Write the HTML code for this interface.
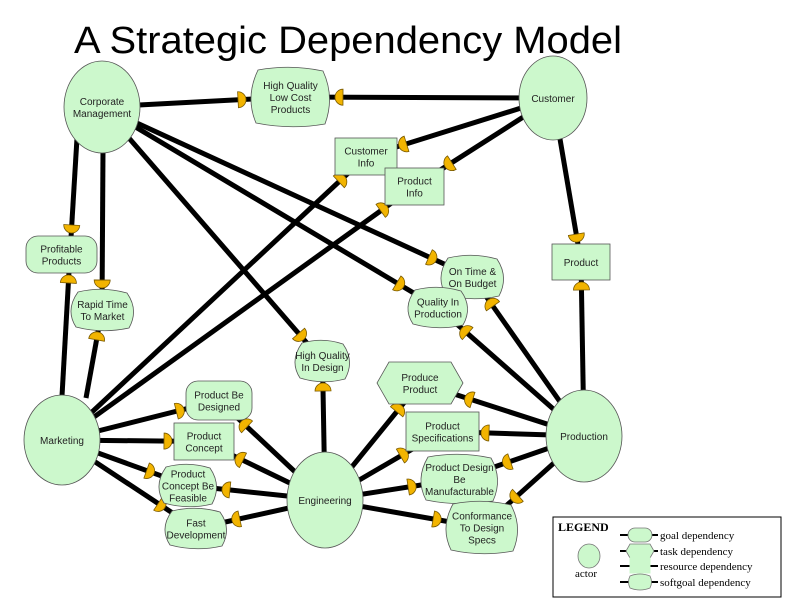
<!DOCTYPE html>
<html><head><meta charset="utf-8"><style>
body{margin:0;background:#fff;width:792px;height:612px;overflow:hidden}
svg{position:absolute;left:0;top:0}
text{font-family:"Liberation Sans",sans-serif;font-size:10px;fill:#222}
</style></head><body>
<svg id="s" width="792" height="612" viewBox="0 0 792 612" xmlns="http://www.w3.org/2000/svg">
<text x="74" y="53" textLength="548" lengthAdjust="spacingAndGlyphs" style="font-size:38px;fill:#000">A Strategic Dependency Model</text>
<g id="lines"></g><g id="marks"></g><g id="nodes"></g>
<rect x="553" y="517" width="228" height="80" fill="#fff" stroke="#000" stroke-width="1"/>
<text x="558" y="531" style="font-family:'Liberation Serif',serif;font-weight:bold;font-size:12px;fill:#000">LEGEND</text>
<ellipse cx="589" cy="556" rx="11" ry="12" fill="#ccf8cc" stroke="#777" stroke-width="0.8"/>
<text x="575" y="577" style="font-family:'Liberation Serif',serif;font-size:11px;fill:#000">actor</text>
<g stroke="#000" stroke-width="2"><line x1="620" y1="535" x2="658" y2="535"/><line x1="620" y1="551" x2="658" y2="551"/><line x1="620" y1="566" x2="658" y2="566"/><line x1="620" y1="582" x2="658" y2="582"/></g>
<rect x="628" y="528" width="24" height="14" rx="7" fill="#ccf8cc" stroke="#777" stroke-width="0.8"/>
<path d="M630 544 L650 544 L654 551 L650 558 L630 558 L626 551Z" fill="#ccf8cc" stroke="#777" stroke-width="0.8"/>
<rect x="630" y="558" width="20" height="15" fill="#ccf8cc" stroke="#ccf8cc"/>
<path d="M630 576 Q640 572 650 576 Q653 582 650 588 Q640 592 630 588 Q627 582 630 576Z" fill="#ccf8cc" stroke="#777" stroke-width="0.8"/>
<text x="660" y="539" style="font-family:'Liberation Serif',serif;font-size:11px;fill:#000">goal dependency</text><text x="660" y="555" style="font-family:'Liberation Serif',serif;font-size:11px;fill:#000">task dependency</text><text x="660" y="570" style="font-family:'Liberation Serif',serif;font-size:11px;fill:#000">resource dependency</text><text x="660" y="586" style="font-family:'Liberation Serif',serif;font-size:11px;fill:#000">softgoal dependency</text>
</svg>
<script>
var NS="http://www.w3.org/2000/svg",F="#ccf8cc",S="#555";
function el(g,t,a){var e=document.createElementNS(NS,t);for(var k in a)e.setAttribute(k,a[k]);document.getElementById(g).appendChild(e);return e}
var A={CM:[102,107,38,46,["Corporate","Management"]],CU:[553,98,34,42,["Customer"]],MK:[62,440,38,45,["Marketing"]],EN:[325,500,38,48,["Engineering"]],PR:[584,436,38,46,["Production"]]};
var D={
HQ:[248,68,333,126,"s",["High Quality","Low Cost","Products"]],
CI:[335,138,397,175,"r",["Customer","Info"]],
PI:[385,168,444,205,"r",["Product","Info"]],
PF:[26,236,97,273,"g",["Profitable","Products"]],
RT:[68,290,137,330,"s",["Rapid Time","To Market"]],
PD:[552,244,610,280,"r",["Product"]],
OT:[438,256,507,298,"s",["On Time &","On Budget"]],
QP:[405,288,471,327,"s",["Quality In","Production"]],
HD:[292,341,353,381,"s",["High Quality","In Design"]],
PP:[377,362,463,404,"t",["Produce","Product"]],
BD:[186,381,252,420,"g",["Product Be","Designed"]],
PC:[174,423,234,460,"r",["Product","Concept"]],
PS:[406,412,479,451,"r",["Product","Specifications"]],
CF:[156,465,220,506,"s",["Product","Concept Be","Feasible"]],
DM:[418,455,501,503,"s",["Product Design","Be","Manufacturable"]],
FD:[162,509,230,548,"s",["Fast","Development"]],
CS:[443,502,521,553,"s",["Conformance","To Design","Specs"]]};
var L=[["CM","HQ","CU"],["CU","CI","MK"],["CU","PI","MK"],["CU","PD","PR"],["CM","PF","MK",[77,138],[70,254],[62,396]],["CM","RT","MK",[103,150],[102,310],[86,398]],["CM","HD","EN"],["CM","OT","PR"],["CM","QP","PR"],
["MK","BD","EN"],["MK","PC","EN"],["MK","CF","EN"],["MK","FD","EN"],["EN","PP","PR"],["EN","PS","PR"],["EN","DM","PR"],["EN","CS","PR"]];
function c(id){if(A[id])return[A[id][0],A[id][1]];var d=D[id];return[(d[0]+d[2])/2,(d[1]+d[3])/2]}
function mark(q,did,p){var d=D[did];var dx=q[0]-p[0],dy=q[1]-p[1],len=Math.hypot(dx,dy);var hw=(d[2]-d[0])/2,hh=(d[3]-d[1])/2;
var cx=(d[0]+d[2])/2,cy=(d[1]+d[3])/2;
var t=Math.min((hw+Math.abs(p[0]-cx))/Math.abs(dx||1e-6),(hh+Math.abs(p[1]-cy))/Math.abs(dy||1e-6));var dist=t*len+7;var x=p[0]+dx/len*dist,y=p[1]+dy/len*dist;var ang=Math.atan2(-dy,-dx)*180/Math.PI;
el("marks","path",{d:"M-3,-8 A8,8 0 0 1 -3,8 Z",transform:"translate("+x+","+y+") rotate("+ang+")",fill:"#f2b400",stroke:"#7a5a00","stroke-width":"0.8"});}
L.forEach(function(l){var a=l[3]||c(l[0]),b=l[4]||c(l[1]),e=l[5]||c(l[2]);
el("lines","line",{x1:a[0],y1:a[1],x2:b[0],y2:b[1],stroke:"#000","stroke-width":5});
el("lines","line",{x1:b[0],y1:b[1],x2:e[0],y2:e[1],stroke:"#000","stroke-width":5});
mark(a,l[1],b);mark(e,l[1],b);});
function lab(cx,cy,arr){var n=arr.length,lh=12;arr.forEach(function(s,i){var t=el("nodes","text",{x:cx,y:cy-(n-1)*lh/2+i*lh+4,"text-anchor":"middle"});t.textContent=s;});}
for(var k in A){var a=A[k];el("nodes","ellipse",{cx:a[0],cy:a[1],rx:a[2],ry:a[3],fill:F,stroke:S,"stroke-width":0.8});lab(a[0],a[1],a[4]);}
for(var k in D){var d=D[k],x1=d[0],y1=d[1],x2=d[2],y2=d[3],w=x2-x1,h=y2-y1;
if(d[4]=="r")el("nodes","rect",{x:x1,y:y1,width:w,height:h,fill:F,stroke:S,"stroke-width":0.8});
else if(d[4]=="g")el("nodes","rect",{x:x1,y:y1,width:w,height:h,rx:12,ry:12,fill:F,stroke:S,"stroke-width":0.8});
else if(d[4]=="t")el("nodes","path",{d:"M"+(x1+12)+" "+y1+" L"+(x2-12)+" "+y1+" L"+x2+" "+(y1+h/2)+" L"+(x2-12)+" "+y2+" L"+(x1+12)+" "+y2+" L"+x1+" "+(y1+h/2)+"Z",fill:F,stroke:S,"stroke-width":0.8});
else el("nodes","path",{d:"M"+(x1+10)+" "+(y1+2)+" Q"+(x1+w/2)+" "+(y1-4)+" "+(x2-10)+" "+(y1+3)+" Q"+(x2+2)+" "+(y1+h/2)+" "+(x2-8)+" "+(y2-2)+" Q"+(x1+w/2)+" "+(y2+4)+" "+(x1+8)+" "+(y2-3)+" Q"+(x1-3)+" "+(y1+h/2)+" "+(x1+10)+" "+(y1+2)+"Z",fill:F,stroke:S,"stroke-width":0.8});
lab((x1+x2)/2,(y1+y2)/2,d[5]);}
</script>
</body></html>
